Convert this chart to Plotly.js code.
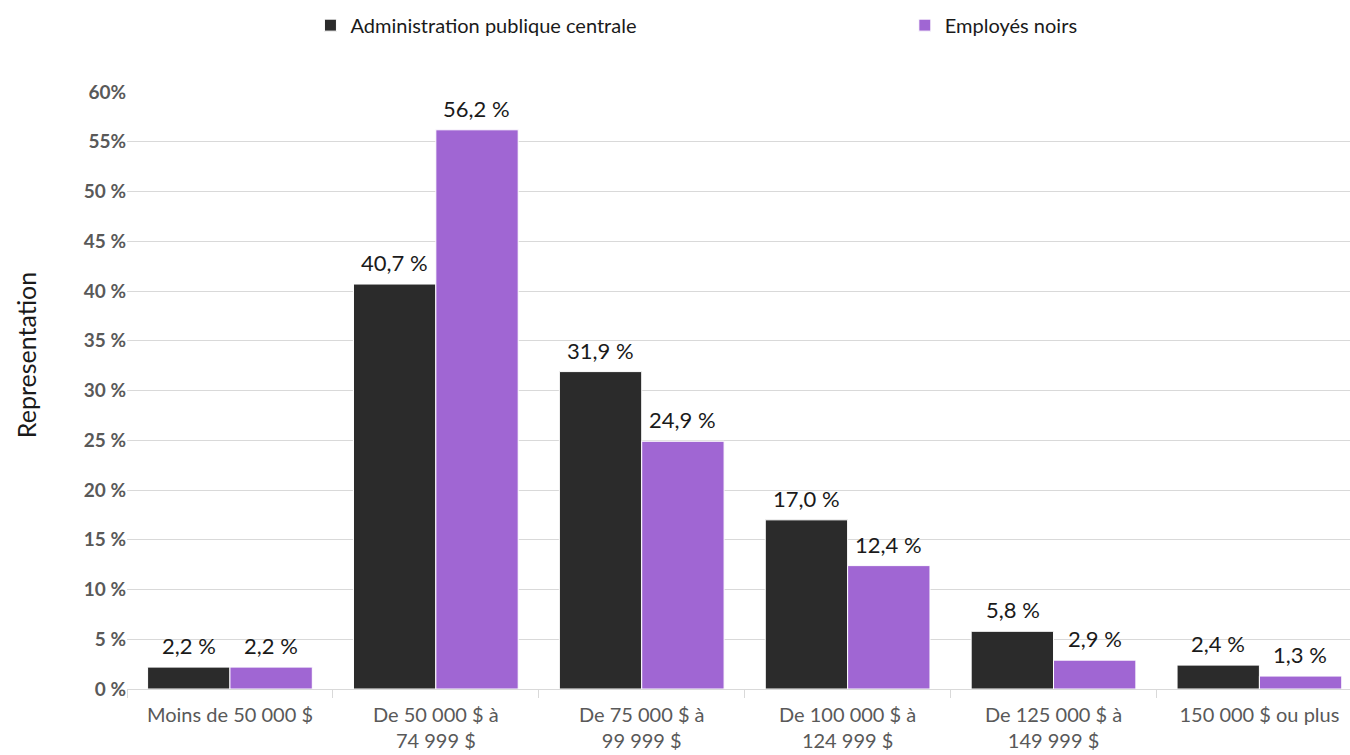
<!DOCTYPE html>
<html>
<head>
<meta charset="utf-8">
<script src="https://cdn.plot.ly/plotly-3.0.1.min.js"></script>
<style>html,body{margin:0;padding:0;background:#fff;}#chart{width:1350px;height:755px;}</style>
</head>
<body>
<div id="chart"></div>
<script>
const categories = ["Moins de 50 000 $", "De 50 000 $ à<br>74 999 $", "De 75 000 $ à<br>99 999 $", "De 100 000 $ à<br>124 999 $", "De 125 000 $ à<br>149 999 $", "150 000 $ ou plus"];
const seriesNames = ["Administration publique centrale", "Employés noirs"];
const adminValues = [2.2, 40.7, 31.9, 17.0, 5.8, 2.4];
const noirsValues = [2.2, 56.2, 24.9, 12.4, 2.9, 1.3];
const yTickVals = [0, 5, 10, 15, 20, 25, 30, 35, 40, 45, 50, 55, 60];
const yTickText = ["0 %", "5 %", "10 %", "15 %", "20 %", "25 %", "30 %", "35 %", "40 %", "45 %", "50 %", "55%", "60%"];
const yTitle = "Representation";

const fmt = v => v.toFixed(1).replace('.', ',') + ' %';
const font = 'Lato, "Open Sans", sans-serif';

const traces = [
  {type: 'bar', name: seriesNames[0], x: categories, y: adminValues, legend: 'legend',
   marker: {color: '#2b2b2b', line: {color: '#ffffff', width: 1}}, hoverinfo: 'none'},
  {type: 'bar', name: seriesNames[1], x: categories, y: noirsValues, legend: 'legend2',
   marker: {color: '#a066d3', line: {color: '#ffffff', width: 1}}, hoverinfo: 'none'}
];

const annotations = [];
[adminValues, noirsValues].forEach((vals, s) => {
  vals.forEach((v, i) => {
    annotations.push({xref: 'x', yref: 'y', x: categories[i], y: v, text: fmt(v),
      showarrow: false, xanchor: 'center', yanchor: 'bottom',
      xshift: s === 0 ? -41 : 41, yshift: 6,
      font: {size: 22, color: '#1a1a1a', family: font}});
  });
});
annotations.push({xref: 'paper', yref: 'paper', x: -0.083, y: 0.56, text: yTitle,
  textangle: -90, showarrow: false, xanchor: 'center', yanchor: 'middle',
  font: {size: 25, color: '#1a1a1a', family: font}});

const legendCommon = {orientation: 'h', xanchor: 'left', yanchor: 'middle', y: 1.112,
  font: {size: 20, color: '#1a1a1a', family: font}, itemwidth: 30, bgcolor: 'rgba(0,0,0,0)'};

const layout = {
  width: 1350, height: 755,
  margin: {l: 127, r: 0, t: 92, b: 66},
  paper_bgcolor: '#ffffff', plot_bgcolor: '#ffffff',
  font: {family: font, color: '#595959'},
  barmode: 'group', bargap: 0.2, bargroupgap: 0,
  showlegend: true,
  legend: Object.assign({}, legendCommon, {x: 0.150}),
  legend2: Object.assign({}, legendCommon, {x: 0.636}),
  annotations: annotations,
  xaxis: {type: 'category', range: [-0.5, 5.44], showgrid: false,
          showline: true, linecolor: '#d9d9d9', linewidth: 1,
          ticks: 'outside', tickson: 'boundaries', ticklen: 8, tickcolor: '#d9d9d9',
          ticklabelstandoff: 8,
          tickfont: {size: 20, color: '#595959', family: font}, fixedrange: true},
  yaxis: {range: [0, 60], tickvals: yTickVals, ticktext: yTickText,
          showgrid: true, gridcolor: '#d9d9d9', gridwidth: 1, zeroline: false,
          showline: false, ticks: '', ticklen: 0,
          tickfont: {size: 19, color: '#595959', family: font, weight: 'bold'},
          fixedrange: true}
};

Plotly.newPlot('chart', traces, layout, {displayModeBar: false, staticPlot: true});
</script>
</body>
</html>
